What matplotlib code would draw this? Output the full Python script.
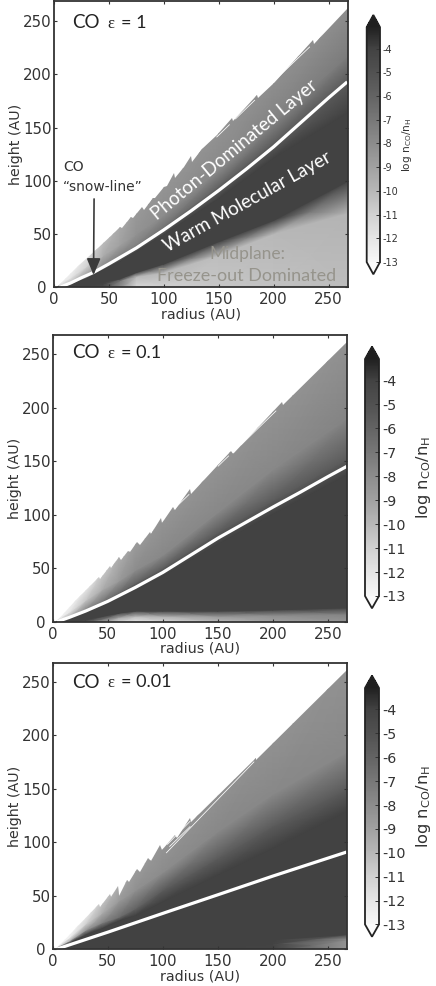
import numpy as np
import matplotlib
matplotlib.use('Agg')
import matplotlib.pyplot as plt
from matplotlib.cm import ScalarMappable
from matplotlib.colors import LinearSegmentedColormap, Normalize
from matplotlib.patches import Polygon
from matplotlib.transforms import ScaledTranslation

W, H = 436, 986
DARK = '#333333'

# grey scale
cbar_levels = [-13, -12, -11, -10, -9, -8, -7, -6, -5, -4, -3.1]
cbar_greys = [0.97, 0.90, 0.82, 0.72, 0.63, 0.55, 0.47, 0.39, 0.32, 0.26, 0.13]
cbar_ticks = [-4, -5, -6, -7, -8, -9, -10, -11, -12, -13]
axis_ticks = [0, 50, 100, 150, 200, 250]

# columns of the abundance table (AU), rows go from midplane up to the surface
radii = [2, 15, 30, 45, 60, 75, 100, 150, 200, 268]

# panel 1, eps = 1
heights_1 = [
    [0, 0, 0, 0, 0, 0, 0, 0, 0, 0],
    [.3, 1, 2, 3, 6, 10, 14, 30, 50, 70],
    [.6, 1.5, 3, 5, 8, 14, 22, 43, 63, 100],
    [.9, 3, 9, 17, 25, 34, 50, 84, 122, 165],
    [1.1, 5, 12, 21, 30, 40, 57, 95, 136, 195],
    [1.5, 9, 20, 30, 40, 50, 68, 110, 155, 218],
    [3, 18, 33, 50, 65, 82, 110, 160, 215, 285],
]
values_1 = [
    [-4.2, -4.2, -4.2, -4.6, -8, -11.3, -11, -10.6, -10.4, -10.2],
    [-4, -4, -4, -4.2, -7, -10, -10, -10.2, -10, -9.8],
    [-4, -4, -4, -4, -4, -4, -4, -4, -4, -4],
    [-4, -4, -4, -4, -4, -4, -4, -4, -4, -4],
    [-12, -10.5, -9, -8, -7.5, -7.5, -6.8, -6, -5.7, -5.6],
    [-12.5, -12, -11, -9.5, -9, -8.3, -8, -7.8, -7.5, -7.2],
    [-13, -13, -12, -10.5, -9.5, -8.8, -8.6, -8.5, -8.5, -8.5],
]
surf_r_1 = [3, 20, 40, 55, 60, 62, 70, 72, 80, 82, 90, 92, 100, 103, 109, 110, 118, 125, 126, 135, 148, 162, 163, 185, 186, 200, 236, 237, 268]
surf_z_1 = [0, 18, 37, 51, 57, 56, 66, 65, 75, 73, 84, 84, 94, 95, 107, 103, 113, 123, 118, 130, 143, 159, 156, 181, 178, 192, 232, 229, 262]
snow_r_1 = [5, 15, 25, 36, 50, 75, 100, 125, 150, 175, 200, 225, 250, 267]
snow_z_1 = [0, 4, 9, 14, 22, 37, 54, 72, 91, 111, 132, 155, 178, 193]
gap_r_1 = [(233, 195), (183, 165), (160, 148)]
gap_z_1 = [(226, 188.5), (176, 158), (153, 141)]

# panel 2, eps = 0.1
heights_2 = [
    [0, 0, 0, 0, 0, 0, 0, 0, 0, 0],
    [.2, .5, 1, 2.5, 4, 5, 5, 5, 6, 7],
    [.4, 1, 2, 5, 8, 10, 10, 10, 11, 13],
    [.9, 3.5, 9, 15, 23, 30, 43, 73, 101, 138],
    [1.1, 5, 12, 19, 27, 36, 50, 83, 113, 152],
    [1.5, 9, 20, 30, 38, 48, 62, 102, 142, 190],
    [3, 18, 33, 50, 65, 82, 110, 160, 215, 285],
]
values_2 = [
    [-4.2, -4.2, -5, -8.5, -11, -12, -11.3, -10, -9, -8.4],
    [-4, -4, -4.5, -6.5, -9, -10, -9.5, -8.5, -8, -7.5],
    [-4, -4, -4, -4, -4, -4, -4, -4, -4, -4],
    [-4, -4, -4, -4, -4, -4, -4, -4, -4, -4],
    [-12, -10, -8, -7, -6.3, -6, -5.7, -5.5, -5.5, -5.5],
    [-13, -12, -10.5, -9.5, -8.6, -8, -7.8, -7.8, -7.8, -7.6],
    [-13, -13, -12.5, -11, -9.8, -9, -8.6, -8.5, -8.5, -8.5],
]
surf_r_2 = [3, 20, 42, 43, 52, 53, 60, 62, 68, 70, 77, 79, 88, 89, 98.7, 99.5, 109, 111, 125, 125.5, 162, 164, 208, 209, 268]
surf_z_2 = [0, 19, 42, 40, 52, 50, 60, 58, 66, 65, 74, 72, 84, 82, 97, 92, 107, 104, 124, 119, 159, 157, 205, 202, 262]
snow_r_2 = [4, 15, 30, 50, 75, 100, 125, 150, 175, 200, 225, 250, 267]
snow_z_2 = [0, 4, 10, 19, 32, 46, 62, 78, 92.5, 107, 121, 135.5, 145]
gap_r_2 = [(203, 171), (160, 150), (124, 110)]
gap_z_2 = [(197, 165), (155, 145), (119, 105)]

# panel 3, eps = 0.01
heights_3 = [
    [0, 0, 0, 0, 0, 0, 0, 0, 0, 0],
    [.2, .5, 1, 1.5, 2, 2.5, 3, 4, 5, 9],
    [.4, 1, 2, 3, 4, 5, 6, 8, 9, 14],
    [.9, 6, 14, 20, 27, 32, 45, 70, 95, 130],
    [1.1, 8, 18, 25, 30, 38, 55, 85, 115, 150],
    [1.5, 11, 24, 34, 45, 55, 72, 110, 145, 185],
    [3, 18, 33, 50, 65, 82, 110, 160, 215, 285],
]
values_3 = [
    [-4, -4, -4, -4, -4, -4, -4, -4, -4.2, -8.5],
    [-4, -4, -4, -4, -4, -4, -4, -4, -4.1, -8.3],
    [-4, -4, -4, -4, -4, -4, -4, -4, -4, -4],
    [-4, -4, -4, -4, -4, -4, -4, -4, -4, -4],
    [-12, -10, -8.5, -7.5, -6.5, -6, -5.5, -5.5, -5.5, -5.5],
    [-13, -12.5, -11, -9.5, -8.6, -8.2, -8, -7.8, -7.8, -7.8],
    [-13, -13, -12.5, -11, -9.8, -9, -8.6, -8.4, -8.4, -8.4],
]
surf_r_3 = [3, 20, 42, 43, 52, 53, 59.6, 60, 67.4, 69, 77, 79, 87, 89, 97.8, 99, 111.5, 113, 125, 125.5, 184.5, 185, 268]
surf_z_3 = [0, 19, 42, 40, 52, 49, 58.8, 50, 65, 63, 75, 72, 85, 83, 98, 93, 107, 104, 123, 119, 179, 177, 262]
snow_r_3 = [3, 50, 104, 150, 200, 267]
snow_z_3 = [0, 16, 35, 51, 68.5, 91]
gap_r_3 = [(183, 103), (125, 104), (125, 106)]
gap_z_3 = [(175.5, 90), (120, 98), (115, 96)]

titles = ['= 1', '= 0.1', '= 0.01']

# pixel boxes (left, top, right, bottom) and axis limits per panel
ax_boxes = [(54, 1, 348.3, 287.3), (52.7, 335, 346.7, 621.7), (52.7, 663.3, 346.7, 949.3)]
cax_boxes = [(366.7, 15, 380, 274.3), (365, 346.7, 379, 608.3), (365, 675.7, 379, 936.7)]
xlims = [268, 267, 267]
ylims = [269, 267.7, 267.5]
tick_sizes = [7, 10.3, 10.3]
label_sizes = [7.6, 11.7, 11.7]
label_pads = [1, 6, 6]

cmap = LinearSegmentedColormap.from_list(
    'co', [((l - cbar_levels[0]) / (cbar_levels[-1] - cbar_levels[0]), (g, g, g))
           for l, g in zip(cbar_levels, cbar_greys)], N=256)
cmap.set_under('#fbfbfb')
cmap.set_over('#1f1f1f')
norm = Normalize(cbar_levels[0], cbar_levels[-1])


def px_box(box):
    l, t, r, b = box
    return [l / W, 1 - b / H, (r - l) / W, (b - t) / H]


def px_text(x, y, s, **kw):
    return fig.text(x / W, 1 - y / H, s, **kw)


fig = plt.figure(figsize=(W / 100, H / 100), dpi=100)

panels = [
    (heights_1, values_1, surf_r_1, surf_z_1, snow_r_1, snow_z_1, gap_r_1, gap_z_1),
    (heights_2, values_2, surf_r_2, surf_z_2, snow_r_2, snow_z_2, gap_r_2, gap_z_2),
    (heights_3, values_3, surf_r_3, surf_z_3, snow_r_3, snow_z_3, gap_r_3, gap_z_3),
]

for i, (zs, vals, sr, sz, lr, lz, gr, gz) in enumerate(panels):
    ax = fig.add_axes(px_box(ax_boxes[i]))
    zs = np.array(zs, dtype=float)
    X = np.tile(radii, (zs.shape[0], 1))
    mesh = ax.pcolormesh(X, zs, np.array(vals), shading='gouraud', cmap=cmap, norm=norm)

    # jagged upper edge of the model grid
    outline = list(zip(sr, sz)) + [(sr[-1], 0)]
    mesh.set_clip_path(Polygon(outline, transform=ax.transData))

    for a, b in zip(gr, gz):
        ax.plot(a, b, color='white', lw=0.55, solid_capstyle='butt')
    ax.plot(lr, lz, color='white', lw=2.3, solid_capstyle='butt')

    ax.set_xlim(0, xlims[i])
    ax.set_ylim(0, ylims[i])
    ax.set_xticks(axis_ticks)
    ax.set_yticks(axis_ticks)
    ax.tick_params(direction='in', top=True, right=True, length=2.5, width=0.8,
                   color=DARK, labelcolor=DARK, labelsize=10.8)
    ax.tick_params(axis='x', pad=3.5)
    ax.tick_params(axis='y', pad=1.5)
    ax.set_xlabel('radius (AU)', fontsize=10.3, color=DARK, labelpad=0)
    ax.set_ylabel('height (AU)', fontsize=10.3, color=DARK, labelpad=0)
    # the zero on the height axis sits further left, clear of the radius zero
    zero = ax.get_yticklabels()[0]
    zero.set_transform(zero.get_transform() + ScaledTranslation(-4 / 72, 0, fig.dpi_scale_trans))
    for s in ax.spines.values():
        s.set_linewidth(1.3)
        s.set_color(DARK)

    # colorbar
    cax = fig.add_axes(px_box(cax_boxes[i]))
    sm = ScalarMappable(norm=norm, cmap=cmap)
    cb = fig.colorbar(sm, cax=cax, extend='both', extendfrac=0.052, ticks=cbar_ticks)
    cb.ax.set_yticklabels([str(t) for t in cbar_ticks])
    cb.outline.set_linewidth(1.3)
    cb.outline.set_edgecolor('#222222')
    cb.ax.tick_params(direction='in', length=3, width=0.7, color=DARK, labelcolor=DARK,
                      labelsize=tick_sizes[i], pad=2)
    cb.set_label(r'log n$_{\mathrm{CO}}$/n$_{\mathrm{H}}$', fontsize=label_sizes[i],
                 color=DARK, labelpad=label_pads[i])

    # panel title
    top = [23, 353, 682][i]
    px_text(72, top, 'CO', family='Lato', fontsize=13.5, color='#222222', va='center')
    px_text(107, top + 1, '\u03b5', family='Liberation Serif', fontsize=12, color='#222222', va='center')
    px_text(121, top, titles[i], family='Lato', fontsize=13, color='#222222', va='center')

    if i == 0:
        ax.annotate('', xy=(36, 11.6), xytext=(36.5, 83),
                    arrowprops=dict(arrowstyle='-|>,head_length=1,head_width=0.42', color='#3a3a3a',
                                    lw=1.2, shrinkA=0, shrinkB=0, mutation_scale=10))
        px_text(63, 167, 'CO', fontsize=10, color=DARK, va='center')
        px_text(63, 187, '\u201csnow-line\u201d', fontsize=10, color=DARK, va='center')
        px_text(234, 150, 'Photon-Dominated Layer', family='Lato', fontsize=13.5, color='white',
                ha='center', va='center', rotation=39.5, rotation_mode='anchor')
        px_text(247, 202, 'Warm Molecular Layer', family='Lato', fontsize=13.5, color='white',
                ha='center', va='center', rotation=29, rotation_mode='anchor')
        px_text(247, 254, 'Midplane:', family='Lato', fontsize=12.5, color='#96948c', ha='center', va='center')
        px_text(247, 276, 'Freeze-out Dominated', family='Lato', fontsize=13, color='#96948c', ha='center', va='center')

fig.savefig('out.png', dpi=100)
